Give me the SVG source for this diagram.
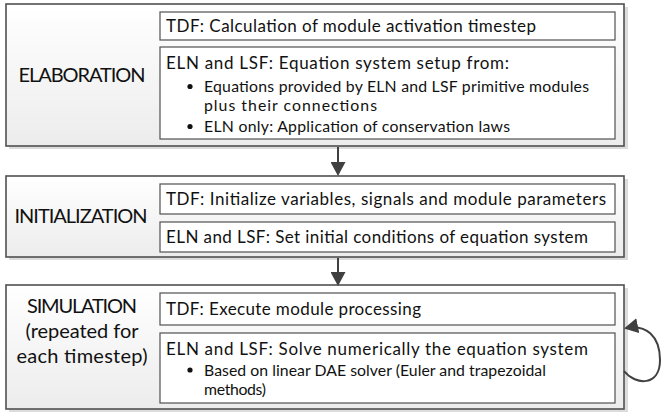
<svg xmlns="http://www.w3.org/2000/svg" width="662" height="414" viewBox="0 0 662 414">
<defs>
<linearGradient id="bg" x1="0" y1="0" x2="0" y2="1">
<stop offset="0" stop-color="#ffffff"/>
<stop offset="1" stop-color="#ececec"/>
</linearGradient>
<marker id="ah" markerWidth="14" markerHeight="15" viewBox="0 0 14 15" refX="12" refY="7.5" orient="auto" markerUnits="userSpaceOnUse">
<path d="M0,0 L14,7.5 L0,15 Z" fill="#404040"/>
</marker>
</defs>
<style>
.outer{fill:url(#bg);stroke:#505050;stroke-width:1.6}
.shadow{fill:#dcdcdc}
.inner{fill:#fff;stroke:#505050;stroke-width:1.2}
.lbl{font-family:Lato,"Open Sans",sans-serif;font-size:20px;fill:#111;text-anchor:middle}
.t{font-family:Lato,"Open Sans",sans-serif;font-size:17px;fill:#111}
.b{font-family:Lato,"Open Sans",sans-serif;font-size:15.8px;fill:#111}
.conn{fill:none;stroke:#404040;stroke-width:2}
</style>
<g id="elaboration">
<rect class="shadow" x="9" y="7" width="619" height="142"/>
<rect class="outer" x="6" y="4" width="618" height="142"/>
<text class="lbl" x="82" y="82" textLength="127">ELABORATION</text>
<rect class="inner" x="160" y="12" width="455" height="28"/>
<text class="t" x="166" y="32" textLength="370">TDF: Calculation of module activation timestep</text>
<rect class="inner" x="160" y="47" width="455" height="92"/>
<text class="t" x="166" y="68.5" textLength="343">ELN and LSF: Equation system setup from:</text>
<circle cx="190" cy="86.5" r="2.6" fill="#111"/>
<text class="b" x="204" y="92" textLength="385">Equations provided by ELN and LSF primitive modules</text>
<text class="b" x="204" y="111" textLength="173">plus their connections</text>
<circle cx="190" cy="126.5" r="2.6" fill="#111"/>
<text class="b" x="204" y="132" textLength="306">ELN only: Application of conservation laws</text>
</g>
<g id="initialization">
<rect class="shadow" x="9" y="179" width="619" height="81"/>
<rect class="outer" x="6" y="176" width="618" height="81"/>
<text class="lbl" x="81" y="223" textLength="133">INITIALIZATION</text>
<rect class="inner" x="160" y="184" width="455" height="30"/>
<text class="t" x="166" y="205" textLength="440">TDF: Initialize variables, signals and module parameters</text>
<rect class="inner" x="160" y="222" width="455" height="30"/>
<text class="t" x="166" y="243" textLength="422">ELN and LSF: Set initial conditions of equation system</text>
</g>
<g id="simulation">
<rect class="shadow" x="9" y="288" width="619" height="124"/>
<rect class="outer" x="6" y="285" width="618" height="124"/>
<text class="lbl" x="82" y="313" textLength="110">SIMULATION</text>
<text class="lbl" x="82" y="338" textLength="113">(repeated for</text>
<text class="lbl" x="82" y="363" textLength="131">each timestep)</text>
<rect class="inner" x="160" y="293" width="455" height="32"/>
<text class="t" x="166" y="315" textLength="255">TDF: Execute module processing</text>
<rect class="inner" x="160" y="333" width="455" height="70"/>
<text class="t" x="166" y="355" textLength="422">ELN and LSF: Solve numerically the equation system</text>
<circle cx="190" cy="370" r="2.6" fill="#111"/>
<text class="b" x="204" y="375.5" textLength="342">Based on linear DAE solver (Euler and trapezoidal</text>
<text class="b" x="204" y="394.5" textLength="62">methods)</text>
</g>
<g id="connectors">
<line class="conn" x1="338" y1="147" x2="338" y2="174" marker-end="url(#ah)"/>
<line class="conn" x1="338" y1="258" x2="338" y2="284" marker-end="url(#ah)"/>
<path class="conn" d="M624,371 C636,386 660,386 660,360 C660,336 646,324 626,328" marker-end="url(#ah)"/>
</g>
</svg>
